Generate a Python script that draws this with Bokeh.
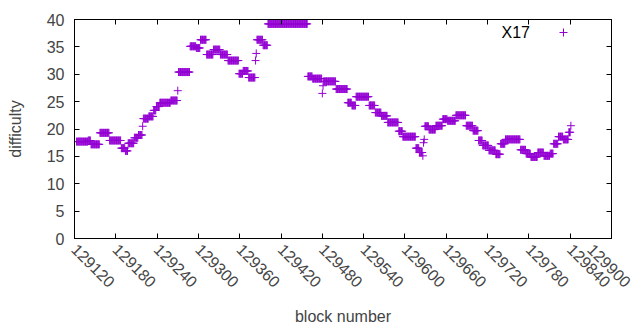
import numpy as np
from math import pi
from bokeh.plotting import figure
from bokeh.models import (ColumnDataSource, FixedTicker, LinearAxis, Range1d,
                          Legend, LegendItem, Label, BasicTickFormatter)
from bokeh.embed import file_html
from bokeh.resources import INLINE

# ---- data: runs of constant difficulty (first block, last block, value) ----
run_start = [129123, 129140, 129144, 129157, 129171, 129188, 129194, 129198, 129207, 129213,
             129219, 129220, 129228, 129235, 129239, 129244, 129260, 129270, 129271, 129288,
             129297, 129303, 129312, 129322, 129332, 129343, 129359, 129365, 129373, 129383,
             129384, 129385, 129394, 129401, 129459, 129466, 129480, 129481, 129482, 129500,
             129517, 129523, 129529, 129548, 129557, 129566, 129575, 129591, 129597, 129616,
             129621, 129626, 129627, 129628, 129629, 129635, 129645, 129655, 129662, 129674,
             129689, 129699, 129707, 129713, 129722, 129732, 129739, 129746, 129768, 129776,
             129783, 129793, 129802, 129811, 129816, 129823, 129830, 129838, 129841]
run_end = [129139, 129143, 129156, 129170, 129187, 129193, 129197, 129206, 129212, 129218,
           129219, 129227, 129234, 129238, 129243, 129259, 129269, 129270, 129287, 129296,
           129302, 129311, 129321, 129331, 129342, 129358, 129364, 129372, 129382, 129383,
           129384, 129393, 129400, 129458, 129465, 129479, 129480, 129481, 129499, 129516,
           129522, 129528, 129547, 129556, 129565, 129574, 129590, 129596, 129615, 129620,
           129625, 129626, 129627, 129628, 129634, 129644, 129654, 129661, 129673, 129688,
           129698, 129706, 129712, 129721, 129731, 129738, 129745, 129767, 129775, 129782,
           129792, 129801, 129810, 129815, 129822, 129829, 129837, 129840, 129841]
run_value = [17.7, 17.9, 17.2, 19.3, 17.9, 16.5, 16.0, 17.4, 18.4, 18.9,
             20.5, 21.9, 22.3, 23.4, 24.1, 24.8, 25.2, 27.0, 30.4, 35.1,
             34.8, 36.3, 33.6, 34.5, 33.6, 32.5, 30.1, 30.6, 29.4, 32.5,
             33.8, 36.3, 35.3, 39.2, 29.6, 29.2, 26.5, 27.9, 28.7, 27.3,
             24.8, 24.3, 25.9, 24.3, 23.0, 22.4, 21.2, 19.6, 18.6, 16.5,
             15.7, 15.1, 17.5, 18.1, 20.5, 19.9, 20.6, 21.8, 21.5, 22.5,
             20.6, 19.7, 17.9, 17.0, 16.1, 15.4, 17.3, 18.1, 16.2, 15.5,
             14.9, 15.7, 15.1, 15.5, 17.3, 18.6, 18.1, 19.4, 20.6]

x_ticks = [129120, 129180, 129240, 129300, 129360, 129420, 129480, 129540,
           129600, 129660, 129720, 129780, 129840, 129900]
y_ticks = [0, 5, 10, 15, 20, 25, 30, 35, 40]
series_name = "X17"
x_label = "block number"
y_label = "difficulty"

blocks = np.concatenate([np.arange(s, e + 1) for s, e in zip(run_start, run_end)])
values = np.concatenate([np.full(e - s + 1, v) for s, e, v in zip(run_start, run_end, run_value)])
src = ColumnDataSource(dict(block=blocks, diff=values))

FONT = "Liberation Sans"
FS = "16px"
COLOR = "#9400D3"

p = figure(frame_width=537, frame_height=219, output_backend="svg", toolbar_location=None,
           x_range=Range1d(x_ticks[0], x_ticks[-1]), y_range=Range1d(y_ticks[0], y_ticks[-1]),
           min_border_left=74, min_border_right=21, min_border_top=19, min_border_bottom=84,
           x_axis_label=x_label, y_axis_label=y_label)
p.grid.visible = False
p.outline_line_color = "black"
p.outline_line_width = 1
p.background_fill_color = "white"
p.border_fill_color = "white"

r = p.scatter("block", "diff", source=src, marker="cross", size=8,
              line_color=COLOR, line_width=1)

for ax in p.xaxis:
    ax.ticker = FixedTicker(ticks=x_ticks)
    ax.formatter = BasicTickFormatter(use_scientific=False)
    ax.major_label_orientation = -pi / 4
for ax in p.yaxis:
    ax.ticker = FixedTicker(ticks=y_ticks)

for ax in list(p.xaxis) + list(p.yaxis):
    ax.minor_tick_line_color = None
    ax.major_tick_in = 5
    ax.major_tick_out = 0
    ax.major_label_standoff = 8
    ax.major_label_text_font = FONT
    ax.major_label_text_font_size = FS
    ax.axis_label_text_font = FONT
    ax.axis_label_text_font_size = FS
    ax.axis_label_text_font_style = "normal"
    ax.axis_line_color = "black"
    ax.major_tick_line_color = "black"
p.yaxis.major_label_standoff = 10
p.yaxis.axis_label_standoff = 20
p.xaxis.axis_label_standoff = 12

# mirrored tick marks on top and right (no labels)
top = LinearAxis(ticker=FixedTicker(ticks=x_ticks), major_tick_in=5, major_tick_out=0,
                 minor_tick_line_color=None, major_label_text_font_size="1px",
                 major_label_text_color=None, major_label_standoff=0)
right = LinearAxis(ticker=FixedTicker(ticks=y_ticks), major_tick_in=5, major_tick_out=0,
                   minor_tick_line_color=None, major_label_text_font_size="1px",
                   major_label_text_color=None, major_label_standoff=0)
p.add_layout(top, "above")
p.add_layout(right, "right")

# key: text followed by sample marker (gnuplot style)
legend = Legend(items=[LegendItem(label=" ", renderers=[r])], location=(479, 196),
                orientation="vertical", border_line_color=None, background_fill_alpha=0,
                glyph_width=20, glyph_height=20, label_width=0, label_standoff=0,
                padding=0, margin=0, spacing=0, label_text_font_size="1px")
p.add_layout(legend, "center")
p.add_layout(Label(x=427, y=206, x_units="screen", y_units="screen", text=series_name,
                   text_font=FONT, text_font_size=FS, text_color="black",
                   text_align="left", text_baseline="middle"))

open("out.html", "w").write(file_html(p, INLINE))
